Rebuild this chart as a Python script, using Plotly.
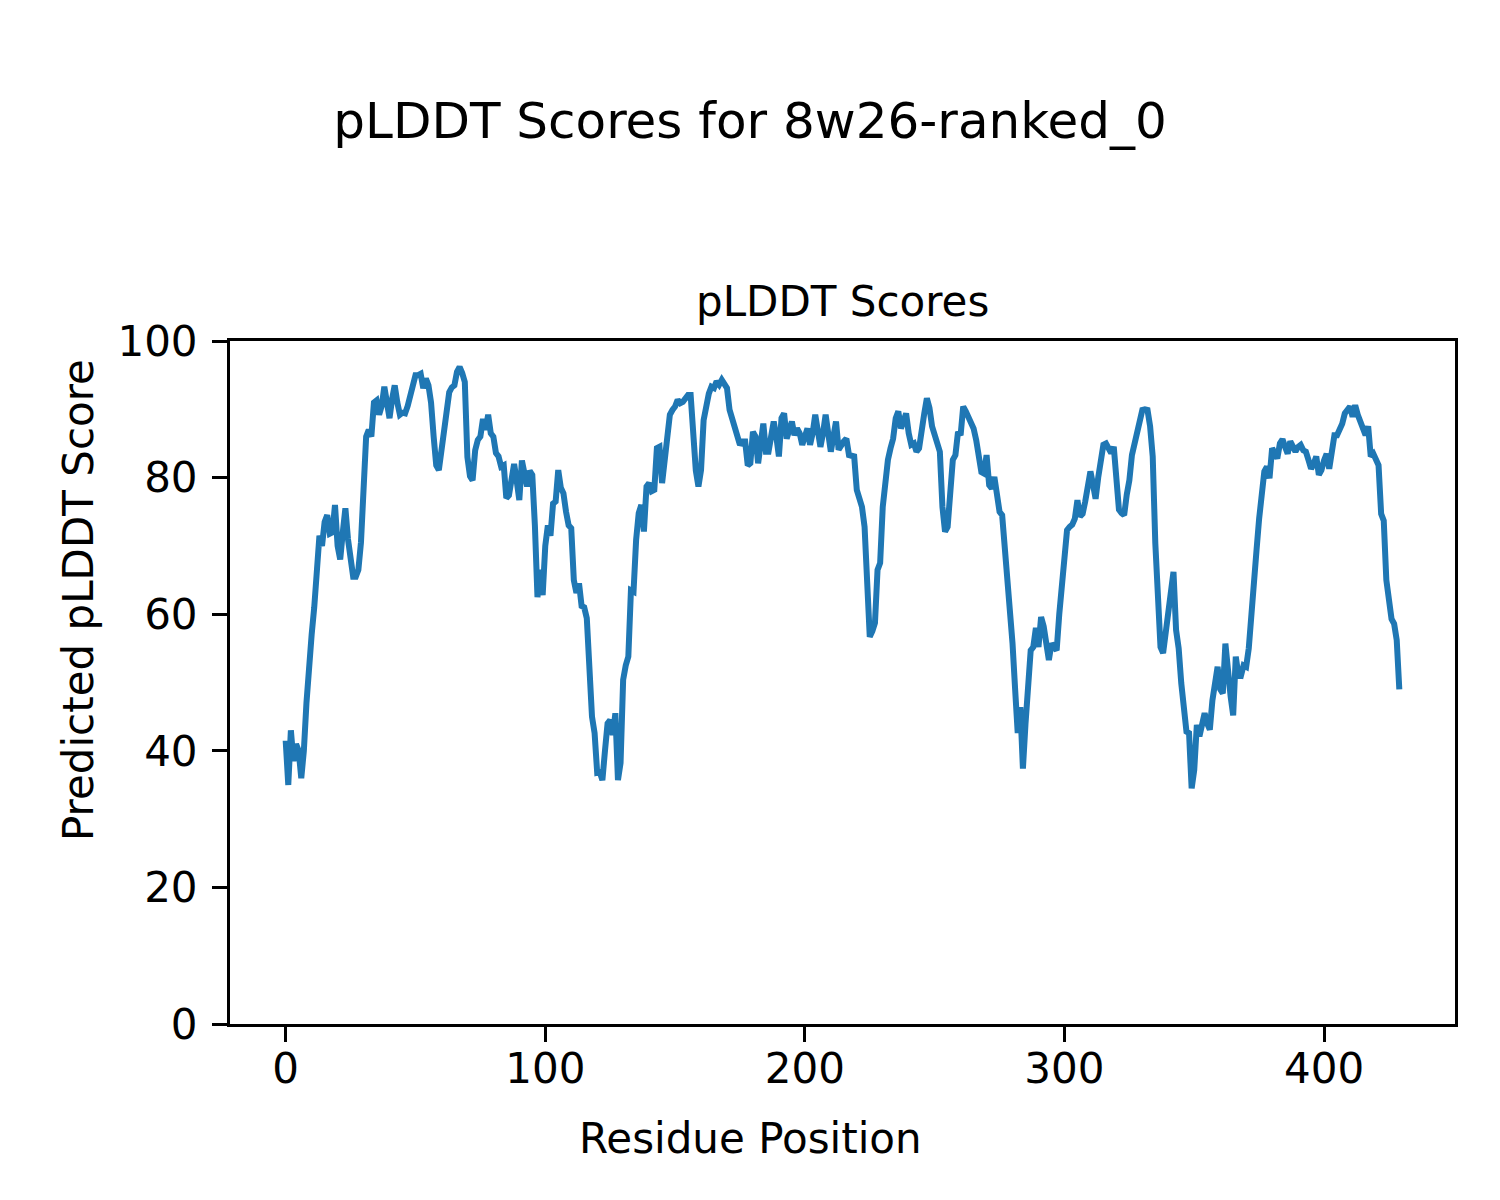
import plotly.graph_objects as go

# pLDDT scores per residue
scores = [
    41.5, 35.0, 43.0, 38.5, 41.0, 40.0, 36.0, 40.0, 47.0, 54.0,
    57.0, 61.0, 66.0, 71.5, 70.0, 73.5, 74.5, 71.8, 72.0, 76.0,
    70.0, 68.0, 72.0, 75.5, 71.0, 67.5, 65.5, 65.5, 66.5, 70.5,
    81.0, 86.0, 87.0, 86.0, 91.0, 91.3, 89.2, 90.5, 93.3, 91.0,
    88.7, 91.5, 93.5, 91.0, 89.2, 89.5, 89.4, 90.5, 92.0, 93.5,
    95.0, 95.0, 95.2, 93.1, 94.5, 93.5, 91.0, 86.0, 81.8, 81.1,
    84.0, 87.0, 90.0, 92.5, 93.2, 93.5, 95.5, 96.2, 95.3, 94.0,
    83.0, 80.2, 79.6, 84.0, 85.5, 86.0, 88.6, 87.0, 89.2, 86.5,
    86.0, 83.6, 83.1, 81.6, 81.8, 77.0, 77.4, 79.9, 82.0, 79.5,
    76.7, 82.5, 81.0, 78.7, 81.0, 80.4, 73.0, 62.5, 66.5, 62.8,
    70.0, 73.0, 71.5, 76.2, 76.5, 81.1, 78.5, 77.7, 75.0, 73.0,
    72.6, 65.0, 63.1, 64.5, 61.2, 61.0, 59.4, 52.0, 45.0, 42.6,
    36.8, 36.9, 35.7, 40.0, 44.0, 44.5, 42.3, 45.5, 35.7, 38.2,
    50.4, 52.5, 53.8, 63.5, 63.3, 70.9, 74.8, 76.0, 72.1, 78.7,
    79.2, 78.0, 78.2, 84.3, 84.5, 79.2, 82.2, 86.0, 89.2, 89.9,
    90.4, 91.4, 90.9, 91.1, 91.8, 92.1, 92.1, 86.0, 81.0, 78.7,
    81.1, 88.4, 90.9, 92.3, 93.3, 93.1, 94.1, 93.6, 94.3, 93.8,
    93.1, 89.9, 88.5, 87.2, 86.5, 84.8, 85.3, 85.3, 81.8, 82.1,
    86.7, 86.0, 82.1, 85.5, 87.9, 83.8, 83.8, 86.0, 88.2, 86.0,
    83.1, 88.7, 89.4, 85.7, 87.0, 88.2, 86.2, 87.2, 86.5, 84.8,
    86.0, 87.2, 84.8, 86.5, 89.2, 87.0, 84.5, 86.5, 89.2, 86.5,
    83.8, 86.0, 88.2, 84.1, 84.8, 85.3, 85.7, 83.3, 83.2, 83.1,
    78.2, 77.0, 75.7, 72.8, 64.0, 56.7, 57.5, 58.7, 66.5, 67.5,
    75.7, 79.5, 82.6, 84.3, 85.7, 88.7, 89.7, 87.2, 88.3, 89.4,
    86.5, 84.8, 85.0, 83.8, 84.3, 87.5, 89.4, 91.6, 90.2, 87.5,
    86.0, 85.0, 83.8, 75.7, 72.1, 72.8, 78.0, 82.6, 83.3, 86.7,
    86.2, 90.4, 89.7, 88.9, 88.2, 87.2, 85.5, 83.5, 80.8, 80.6,
    83.3, 78.9, 78.4, 80.1, 77.5, 75.0, 74.5, 70.0, 65.5, 59.6,
    55.7, 49.0, 42.6, 46.4, 37.4, 44.0, 49.0, 54.7, 55.2, 58.0,
    55.2, 59.6, 58.2, 55.5, 53.3, 55.7, 55.0, 54.7, 60.0, 63.5,
    68.0, 72.3, 72.8, 73.1, 74.0, 76.7, 74.3, 74.7, 76.5, 78.4,
    80.9, 79.0, 76.9, 80.0, 83.3, 84.8, 85.0, 84.2, 83.6, 84.5,
    80.2, 75.3, 74.8, 74.5, 77.5, 79.6, 83.3, 84.8, 86.5, 87.9,
    89.9, 90.0, 89.9, 87.5, 83.1, 70.4, 62.0, 55.2, 54.3, 57.2,
    61.6, 64.0, 66.2, 57.7, 55.0, 49.9, 46.0, 42.8, 42.6, 34.5,
    37.2, 43.8, 42.1, 44.0, 45.5, 44.0, 43.1, 47.4, 50.0, 52.3,
    49.0, 48.4, 55.7, 50.8, 48.0, 45.2, 53.8, 51.1, 51.0, 52.5,
    52.3, 55.0, 60.6, 66.0, 69.4, 74.0, 77.0, 80.9, 81.6, 79.9,
    84.3, 83.5, 82.8, 85.0, 85.6, 84.5, 83.5, 85.3, 84.5, 83.8,
    84.5, 84.8, 84.0, 83.8, 82.6, 81.3, 82.0, 83.1, 80.4, 81.1,
    82.5, 83.5, 81.3, 84.0, 86.2, 86.2, 87.0, 87.9, 89.4, 90.0,
    90.4, 88.9, 90.6, 89.2, 88.0, 86.7, 86.2, 87.5, 83.1, 83.5,
    82.3, 81.8, 74.7, 73.7, 65.0, 61.5, 59.3, 58.6, 56.2, 49.0,
]
residues = list(range(len(scores)))

x_ticks = [0, 100, 200, 300, 400]
y_ticks = [0, 20, 40, 60, 80, 100]

suptitle = "pLDDT Scores for 8w26-ranked_0"
ax_title = "pLDDT Scores"
x_label = "Residue Position"
y_label = "Predicted pLDDT Score"

FONT = "DejaVu Sans"
W, H = 1500, 1200
L, R, T, B = 230, 45, 341, 176
pw, ph = W - L - R, H - T - B

n = len(scores) - 1
pad = 0.05 * n

fig = go.Figure()
fig.add_trace(go.Scatter(x=residues, y=scores, mode="lines",
                         line=dict(color="#1f77b4", width=6)))

axis_common = dict(showgrid=False, zeroline=False, showline=True, linecolor="black",
                   linewidth=3, mirror=True, ticks="outside", ticklen=15, tickwidth=3,
                   tickcolor="black", tickfont=dict(family=FONT, size=42, color="black"))

fig.update_xaxes(range=[-pad, n + pad], tickvals=x_ticks, ticklabelstandoff=-9,
                 **axis_common)
fig.update_yaxes(range=[0, 100], tickvals=y_ticks, ticklabelstandoff=6, **axis_common)

fig.update_layout(
    width=W, height=H,
    margin=dict(l=L, r=R, t=T, b=B, pad=0),
    plot_bgcolor="white", paper_bgcolor="white",
    showlegend=False,
    title=dict(text=suptitle, font=dict(family=FONT, size=50, color="black"),
               xref="container", x=0.5, xanchor="center",
               yref="container", y=1 - 120 / H, yanchor="middle"),
)

fig.add_annotation(text=ax_title, xref="paper", yref="paper", x=0.5,
                   y=(H - B - 302) / ph, xanchor="center", yanchor="middle",
                   showarrow=False, font=dict(family=FONT, size=42, color="black"))
fig.add_annotation(text=x_label, xref="paper", yref="paper", x=(750 - L) / pw,
                   y=(H - B - 1138) / ph, xanchor="center", yanchor="middle",
                   showarrow=False, font=dict(family=FONT, size=42, color="black"))
fig.add_annotation(text=y_label, xref="paper", yref="paper", x=(78 - L) / pw,
                   y=(H - B - 600) / ph, xanchor="center", yanchor="middle",
                   textangle=-90, showarrow=False,
                   font=dict(family=FONT, size=42, color="black"))

fig.write_html("out.html", config={"displayModeBar": False},
               post_script="document.body.style.margin='0';")
